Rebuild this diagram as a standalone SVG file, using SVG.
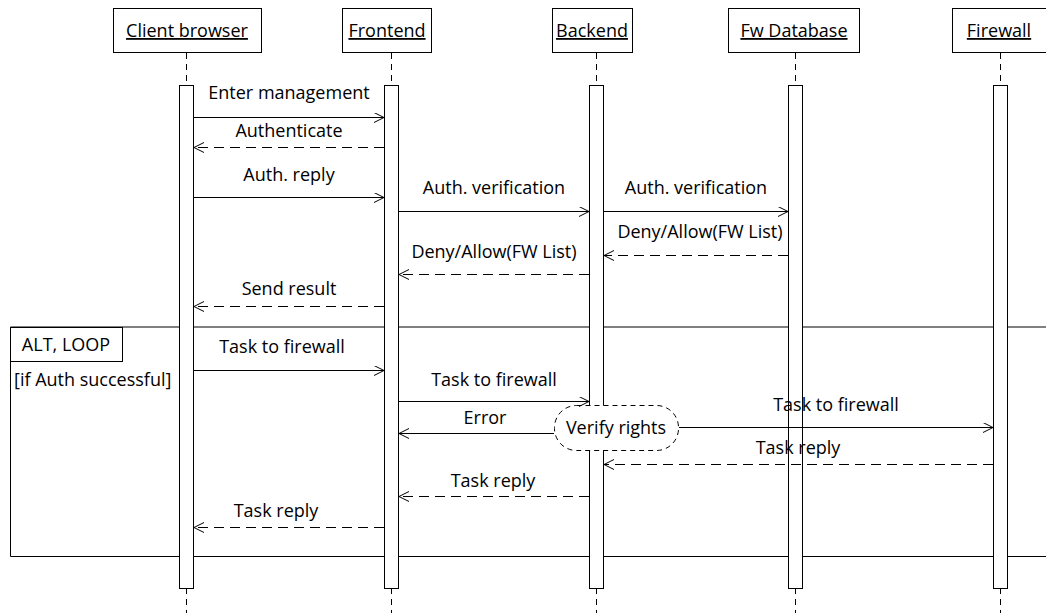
<svg xmlns="http://www.w3.org/2000/svg" width="1046" height="613" viewBox="0 0 1046 613">
<style>
text{font-family:"Open Sans","Liberation Sans",sans-serif;font-size:18px;fill:#000}
.head{fill:#fff;stroke:#000;stroke-width:1}
.life{stroke:#000;stroke-width:1;stroke-dasharray:6,5;fill:none}
.act{fill:#fff;stroke:#000;stroke-width:1}
.msg{stroke:#000;stroke-width:1;fill:none}
.ret{stroke:#000;stroke-width:1;fill:none;stroke-dasharray:10,6}
.u{text-decoration:underline}
.c{text-anchor:middle}
</style>
<defs>
<marker id="arr" markerWidth="12" markerHeight="12" refX="10" refY="5" orient="auto" markerUnits="userSpaceOnUse">
<path d="M0,0 L10,5 L0,10" fill="none" stroke="#000" stroke-width="1"/>
</marker>
</defs>
<rect width="1046" height="613" fill="#fff"/>
<g id="frame">
<path d="M1046,327 H10.5 V556.5 H1046" fill="none" stroke="#000"/>
<rect x="10.5" y="327.5" width="112" height="34" fill="#fff" stroke="#000"/>
<text x="66" y="351" class="c">ALT, LOOP</text>
<text x="14" y="386">[if Auth successful]</text>
</g>
<g id="client">
<rect class="head" x="113.5" y="8.5" width="148" height="44"/>
<text class="c u" x="187" y="37">Client browser</text>
<line class="life" x1="186.5" y1="53" x2="186.5" y2="85"/>
<line class="life" x1="186.5" y1="588" x2="186.5" y2="613"/>
<rect class="act" x="179.5" y="85.5" width="14" height="503"/>
</g>
<g id="frontend">
<rect class="head" x="342.5" y="8.5" width="89" height="44"/>
<text class="c u" x="387" y="37">Frontend</text>
<line class="life" x1="391.5" y1="53" x2="391.5" y2="85"/>
<line class="life" x1="391.5" y1="588" x2="391.5" y2="613"/>
<rect class="act" x="384.5" y="85.5" width="14" height="503"/>
</g>
<g id="backend">
<rect class="head" x="552.5" y="8.5" width="80" height="44"/>
<text class="c u" x="592" y="37">Backend</text>
<line class="life" x1="596.5" y1="53" x2="596.5" y2="85"/>
<line class="life" x1="596.5" y1="588" x2="596.5" y2="613"/>
<rect class="act" x="589.5" y="85.5" width="14" height="503"/>
</g>
<g id="fwdb">
<rect class="head" x="728.5" y="8.5" width="131" height="44"/>
<text class="c u" x="794" y="37">Fw Database</text>
<line class="life" x1="795.5" y1="53" x2="795.5" y2="85"/>
<line class="life" x1="795.5" y1="588" x2="795.5" y2="613"/>
<rect class="act" x="788.5" y="85.5" width="14" height="503"/>
</g>
<g id="firewall">
<rect class="head" x="952.5" y="8.5" width="94" height="44"/>
<text class="c u" x="999" y="37">Firewall</text>
<line class="life" x1="1000.5" y1="53" x2="1000.5" y2="85"/>
<line class="life" x1="1000.5" y1="588" x2="1000.5" y2="613"/>
<rect class="act" x="993.5" y="85.5" width="14" height="503"/>
</g>
<g id="verify">
<rect x="554.5" y="405.5" width="124" height="45" rx="22" ry="22" fill="#fff" stroke="#000" stroke-dasharray="5,4"/>
<text class="c" x="616" y="434">Verify rights</text>
</g>
<g id="connectors">
<line class="msg" x1="194" y1="117.5" x2="384" y2="117.5" marker-end="url(#arr)"/>
<text class="c" x="289" y="99">Enter management</text>
<line class="ret" x1="384" y1="147.5" x2="194" y2="147.5" marker-end="url(#arr)"/>
<text class="c" x="289" y="137">Authenticate</text>
<line class="msg" x1="194" y1="197.5" x2="384" y2="197.5" marker-end="url(#arr)"/>
<text class="c" x="289" y="181">Auth. reply</text>
<line class="msg" x1="399" y1="211.5" x2="589" y2="211.5" marker-end="url(#arr)"/>
<text class="c" x="494" y="194">Auth. verification</text>
<line class="msg" x1="604" y1="211.5" x2="788" y2="211.5" marker-end="url(#arr)"/>
<text class="c" x="696" y="194">Auth. verification</text>
<line class="ret" x1="788" y1="255.5" x2="604" y2="255.5" marker-end="url(#arr)"/>
<text class="c" x="700" y="238">Deny/Allow(FW List)</text>
<line class="ret" x1="589" y1="274.5" x2="399" y2="274.5" marker-end="url(#arr)"/>
<text class="c" x="494" y="258">Deny/Allow(FW List)</text>
<line class="ret" x1="384" y1="306.5" x2="194" y2="306.5" marker-end="url(#arr)"/>
<text class="c" x="289" y="295">Send result</text>
<line class="msg" x1="194" y1="370.5" x2="384" y2="370.5" marker-end="url(#arr)"/>
<text class="c" x="282" y="353">Task to firewall</text>
<line class="msg" x1="399" y1="401.5" x2="589" y2="401.5" marker-end="url(#arr)"/>
<text class="c" x="494" y="386">Task to firewall</text>
<line class="msg" x1="554" y1="433.5" x2="399" y2="433.5" marker-end="url(#arr)"/>
<text class="c" x="485" y="424">Error</text>
<line class="msg" x1="679" y1="427.5" x2="993" y2="427.5" marker-end="url(#arr)"/>
<text class="c" x="836" y="411">Task to firewall</text>
<line class="ret" x1="993" y1="464.5" x2="604" y2="464.5" marker-end="url(#arr)"/>
<text class="c" x="798" y="454">Task reply</text>
<line class="ret" x1="589" y1="496.5" x2="399" y2="496.5" marker-end="url(#arr)"/>
<text class="c" x="493" y="487">Task reply</text>
<line class="ret" x1="384" y1="527.5" x2="194" y2="527.5" marker-end="url(#arr)"/>
<text class="c" x="276" y="517">Task reply</text>
</g>
</svg>
